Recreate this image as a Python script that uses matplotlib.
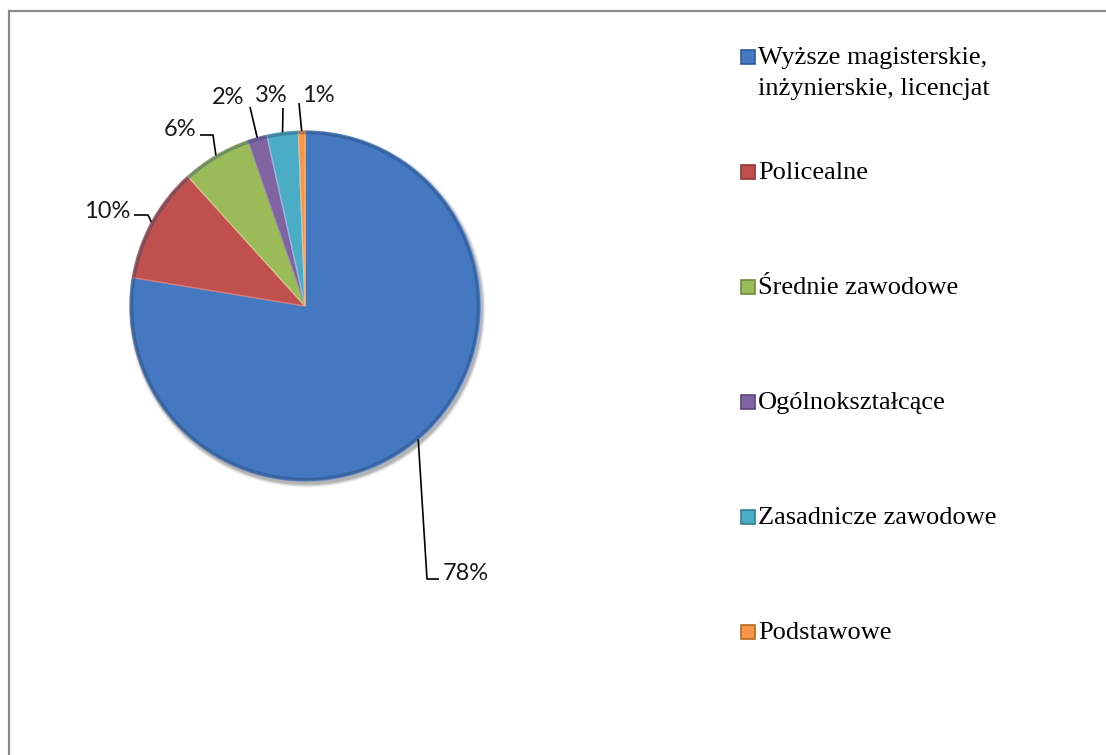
import numpy as np
import matplotlib.pyplot as plt
from matplotlib.patches import Rectangle, Circle

# data
categories = ['Wyższe magisterskie,\ninżynierskie, licencjat', 'Policealne',
              'Średnie zawodowe', 'Ogólnokształcące', 'Zasadnicze zawodowe',
              'Podstawowe']
shares = [77.6, 10.7, 6.4, 1.8, 2.9, 0.6]
pct_labels = ['78%', '10%', '6%', '2%', '3%', '1%']
colors = ['#4479c2', '#c0504d', '#9bbb59', '#8064a2', '#4bacc6', '#f79646']
edge_colors = ['#6d98d6', '#d77b78', '#b7d27e', '#a08bc0', '#7cc6da', '#fab47a']
dark_colors = ['#2f5a96', '#8e3634', '#6f8a3c', '#5a4479', '#327e93', '#b86a23']

W, H = 1106, 755


def Y(y):
    # pixel rows are measured from the top of the picture
    return H - y


fig = plt.figure(figsize=(W / 100, H / 100), dpi=100)
ax = fig.add_axes([0, 0, 1, 1])

cx, cy, r = 305, 306, 175

# soft shadow under the pie
for k, a in zip(range(6, 0, -1), [0.03, 0.04, 0.05, 0.06, 0.07, 0.08]):
    ax.add_patch(Circle((cx + 2, Y(cy + 3)), r + k * 0.6, color='black',
                        alpha=a, linewidth=0, zorder=0))

wedges, _ = ax.pie(shares, colors=colors, startangle=90, counterclock=False,
                   center=(cx, Y(cy)), radius=r, frame=True,
                   wedgeprops=dict(linewidth=1.0))
for w, ec in zip(wedges, edge_colors):
    w.set_edgecolor(ec)

# darker rim to mimic the bevel of the original
ax.add_patch(Circle((cx, Y(cy)), r - 1.5, fill=False, edgecolor='#1f3b66',
                    linewidth=2.5, alpha=0.35, zorder=3))

ax.set_xlim(0, W)
ax.set_ylim(0, H)
ax.axis('off')

# outer chart border (only top and left are inside the picture)
ax.add_patch(Rectangle((9, Y(H + 10)), W + 10, H - 1, fill=False,
                       edgecolor='#8a8a8a', linewidth=1.6))

# data labels with leader lines: (text x, text y, ha, elbow points)
label_layout = [
    (443, 574, 'left', [(427, 579), (439, 579)]),
    (130, 211, 'right', [(148, 215), (134, 215)]),
    (196, 130, 'right', [(213, 135), (200, 135)]),
    (228, 97, 'center', [(250, 107)]),
    (271, 95, 'center', [(283, 108)]),
    (318, 95, 'center', [(299, 103)]),
]

frac = np.array(shares) / sum(shares)
start = np.concatenate([[0], np.cumsum(frac)[:-1]])
for i, (tx, ty, ha, pts) in enumerate(label_layout):
    ang = np.deg2rad(90 - 360 * (start[i] + frac[i] / 2))
    ex, ey = cx + r * np.cos(ang), cy - r * np.sin(ang)
    xs = [ex] + [p[0] for p in pts]
    ys = [Y(ey)] + [Y(p[1]) for p in pts]
    ax.plot(xs, ys, color='black', linewidth=1.2, solid_capstyle='butt',
            zorder=4)
    ax.text(tx, Y(ty), pct_labels[i], ha=ha, va='center', fontsize=17,
            family=['Lato', 'DejaVu Sans'], color='#1a1a1a')

# legend drawn by hand to keep the wide spacing of the original
for i, (name, col, dc) in enumerate(zip(categories, colors, dark_colors)):
    yc = 57 + 115 * i
    ax.add_patch(Rectangle((741, Y(yc + 7)), 14, 14, facecolor=col,
                           edgecolor=dc, linewidth=1.2))
    lines = name.split('\n')
    for j, line in enumerate(lines):
        ax.text(758, Y(yc + 7 + 31 * j), line, ha='left', va='baseline',
                fontsize=19, family=['Liberation Serif', 'DejaVu Serif'],
                color='black')

fig.savefig('out.png', dpi=100, facecolor='white')
